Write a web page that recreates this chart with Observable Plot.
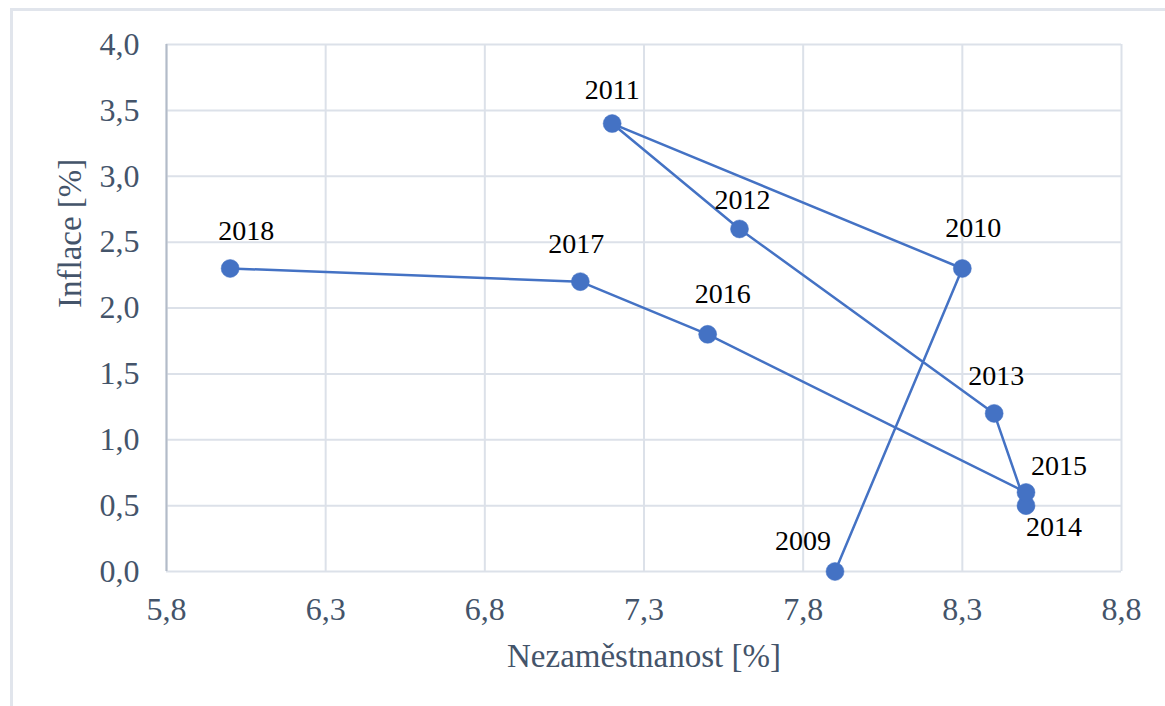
<!DOCTYPE html>
<html><head><meta charset="utf-8">
<script src="https://cdn.jsdelivr.net/npm/d3@7"></script>
<script src="https://cdn.jsdelivr.net/npm/@observablehq/plot@0.6"></script>
<style>
html,body{margin:0;padding:0;background:#fff;overflow:hidden;}
#wrap{position:relative;width:1165px;height:706px;overflow:hidden;background:#fff;}
#chart{position:absolute;left:0;top:0;}
#border{position:absolute;left:10px;top:8px;width:1400px;height:1000px;border:3px solid #e1e5ec;box-sizing:border-box;pointer-events:none;}
</style></head><body>
<div id="wrap"><div id="chart"></div><div id="border"></div></div>
<script>
// ---- data ----
const years = [2009, 2010, 2011, 2012, 2013, 2014, 2015, 2016, 2017, 2018];
const unemployment = [7.9, 8.3, 7.2, 7.6, 8.4, 8.5, 8.5, 7.5, 7.1, 6.0];
const inflation = [0.0, 2.3, 3.4, 2.6, 1.2, 0.5, 0.6, 1.8, 2.2, 2.3];
const xTicks = [5.8, 6.3, 6.8, 7.3, 7.8, 8.3, 8.8];
const yTicks = [0, 0.5, 1, 1.5, 2, 2.5, 3, 3.5, 4];
const xTitle = "Nezaměstnanost [%]";
const yTitle = "Inflace [%]";

// ---- label placement (screen offsets, px) ----
const labelOffsets = {
  2009: [-32, -30], 2010: [11, -40], 2011: [0, -34], 2012: [3, -29], 2013: [2, -37],
  2014: [28, 21], 2015: [33, -26], 2016: [15, -40], 2017: [-4, -38], 2018: [16, -37]
};

const blue = "#4472c4";
const textGray = "#44546a";
const gridColor = "#dce1e9";
const font = "Liberation Serif";
const fontStack = "'Liberation Serif', 'Times New Roman', serif";
const fmt = d => d.toFixed(1).replace(".", ",");
const idx = years.map((_, i) => i);

const labelMarks = idx.map(i => Plot.text([i], {
  x: j => unemployment[j], y: j => inflation[j], text: j => String(years[j]),
  dx: labelOffsets[years[i]][0], dy: labelOffsets[years[i]][1],
  fill: "#000", fontSize: 28, fontFamily: font
}));

const chart = Plot.plot({
  width: 1165, height: 706,
  marginLeft: 166, marginRight: 44, marginTop: 44, marginBottom: 135,
  style: {fontSize: "32px", background: "transparent", overflow: "visible"},
  x: {domain: [5.8, 8.8], ticks: xTicks, axis: null, label: null},
  y: {domain: [0, 4], ticks: yTicks, axis: null, label: null},
  marks: [
    Plot.gridX(xTicks, {stroke: gridColor, strokeOpacity: 1, strokeWidth: 2}),
    Plot.gridY(yTicks, {stroke: gridColor, strokeOpacity: 1, strokeWidth: 2}),
    Plot.ruleX([xTicks[0]], {stroke: "#b3bbc8", strokeWidth: 2}),
    Plot.axisX({ticks: xTicks, tickFormat: fmt, tickSize: 0, tickPadding: 26, color: textGray, fontSize: 32, fontFamily: font, label: null}),
    Plot.axisY({ticks: yTicks, tickFormat: fmt, tickSize: 0, tickPadding: 27, color: textGray, fontSize: 32, fontFamily: font, label: null}),
    Plot.text([xTitle], {frameAnchor: "bottom", lineAnchor: "bottom", dy: 95, fill: textGray, fontSize: 33, fontFamily: font}),
    Plot.text([yTitle], {frameAnchor: "left", lineAnchor: "bottom", rotate: -90, dx: -86, fill: textGray, fontSize: 33, fontFamily: font}),
    Plot.line(idx, {x: i => unemployment[i], y: i => inflation[i], stroke: blue, strokeWidth: 2.5}),
    Plot.dot(idx, {x: i => unemployment[i], y: i => inflation[i], r: 9, fill: blue, stroke: blue, strokeWidth: 0.5}),
    ...labelMarks
  ]
});
d3.select(chart).style("font-family", fontStack, "important");
d3.select(chart).selectAll("g, text, tspan").style("font-family", fontStack, "important");
document.getElementById("chart").appendChild(chart);
</script>
</body></html>
